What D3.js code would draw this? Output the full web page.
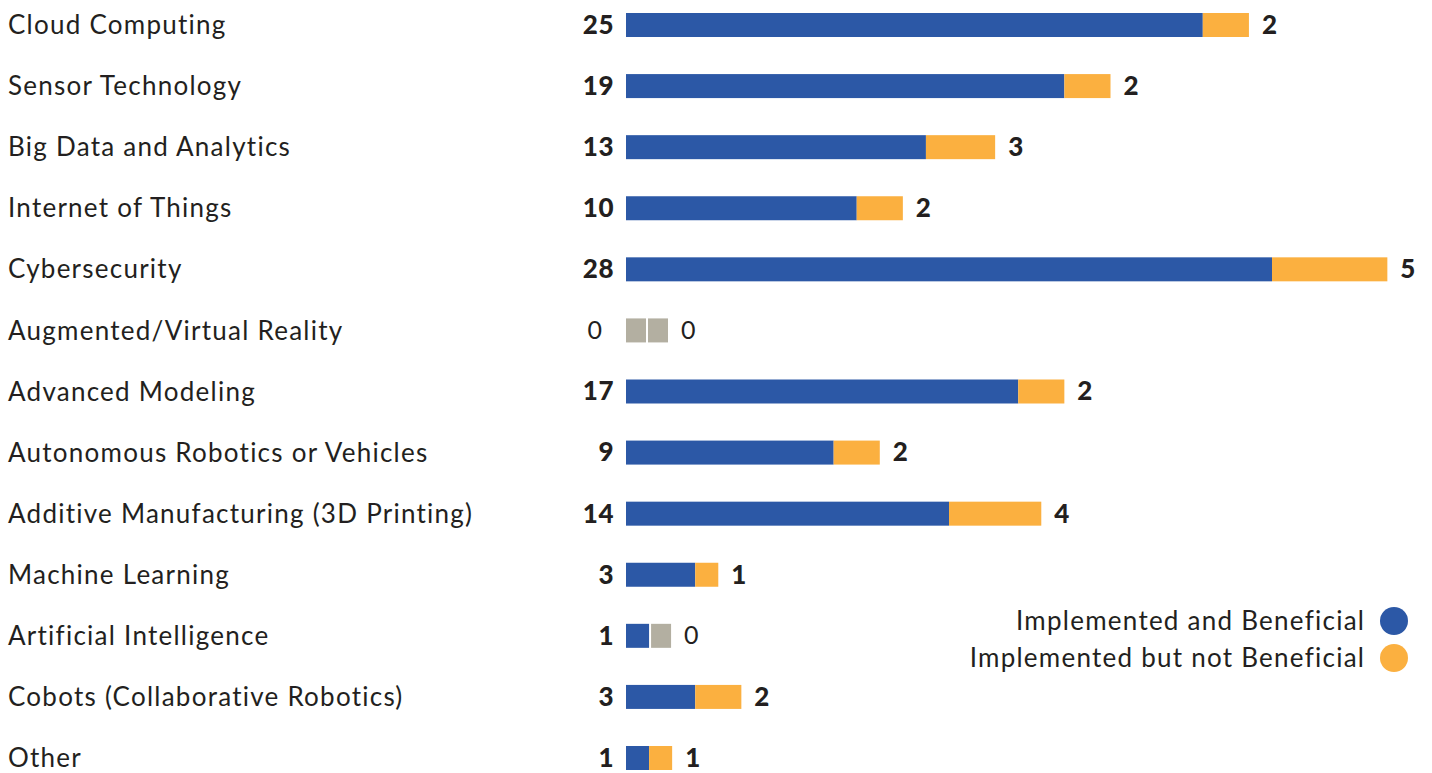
<!DOCTYPE html>
<html>
<head>
<meta charset="utf-8">
<script src="https://cdn.jsdelivr.net/npm/d3@7"></script>
<style>
  body { margin: 0; background: #fff; }
  svg { display: block; }
</style>
</head>
<body>
<svg id="chart" width="1432" height="773"></svg>
<script>
// categories and the two series
const categories = [
  "Cloud Computing", "Sensor Technology", "Big Data and Analytics", "Internet of Things",
  "Cybersecurity", "Augmented/Virtual Reality", "Advanced Modeling",
  "Autonomous Robotics or Vehicles", "Additive Manufacturing (3D Printing)",
  "Machine Learning", "Artificial Intelligence", "Cobots (Collaborative Robotics)", "Other"
];
const beneficial = [25, 19, 13, 10, 28, 0, 17, 9, 14, 3, 1, 3, 1];
const notBeneficial = [2, 2, 3, 2, 5, 0, 2, 2, 4, 1, 0, 2, 1];
const legendLabels = ["Implemented and Beneficial", "Implemented but not Beneficial"];

const colors = { blue: "#2c58a6", orange: "#fbb040", gray: "#b3afa1", text: "#231f20" };
const labelFont = "Lato, 'Open Sans', sans-serif";
const spacing = 1.25;

const svg = d3.select("#chart");

// scales
const x = d3.scaleLinear().domain([0, 28]).range([626, 1272]);
const y = d3.scalePoint().domain(categories).range([25, 758]);
const barH = 24;
const stubW = 20;   // gray placeholder for a zero value

const data = categories.map((c, i) => ({ cat: c, a: beneficial[i], b: notBeneficial[i] }));

// category labels
svg.selectAll("text.cat")
  .data(data)
  .enter().append("text")
  .attr("class", "cat")
  .attr("x", 8)
  .attr("y", d => y(d.cat))
  .attr("dy", "0.35em")
  .attr("font-family", labelFont)
  .attr("font-size", 26)
  .attr("letter-spacing", spacing)
  .attr("fill", colors.text)
  .text(d => d.cat);

const rows = svg.selectAll("g.row")
  .data(data)
  .enter().append("g")
  .attr("class", "row")
  .attr("transform", d => `translate(0,${y(d.cat)})`);

// first segment (or gray stub when zero)
rows.append("rect")
  .attr("x", x(0))
  .attr("y", -barH / 2)
  .attr("width", d => d.a > 0 ? x(d.a) - x(0) : stubW)
  .attr("height", barH)
  .attr("fill", d => d.a > 0 ? colors.blue : colors.gray);

function endA(d) {
  return d.a > 0 ? x(d.a) : x(0) + stubW;
}
function startB(d) {
  return d.b > 0 ? endA(d) : endA(d) + 2;
}
function endB(d) {
  return d.b > 0 ? x(d.a + d.b) : startB(d) + stubW;
}

// second segment
rows.append("rect")
  .attr("x", d => startB(d))
  .attr("y", -barH / 2)
  .attr("width", d => endB(d) - startB(d))
  .attr("height", barH)
  .attr("fill", d => d.b > 0 ? colors.orange : colors.gray);

// values
rows.append("text")
  .attr("x", d => d.a > 0 ? 614 : 602)
  .attr("dy", "0.34em")
  .attr("text-anchor", "end")
  .attr("font-family", labelFont)
  .attr("font-size", d => d.a > 0 ? 26 : 25)
  .attr("font-weight", d => d.a > 0 ? 900 : 400)
  .attr("letter-spacing", d => d.a > 0 ? 0.5 : 0)
  .attr("fill", colors.text)
  .text(d => d.a);

rows.append("text")
  .attr("x", d => endB(d) + 13)
  .attr("dy", "0.34em")
  .attr("font-family", labelFont)
  .attr("font-size", d => d.b > 0 ? 26 : 25)
  .attr("font-weight", d => d.b > 0 ? 900 : 400)
  .attr("letter-spacing", d => d.b > 0 ? 0.5 : 0)
  .attr("fill", colors.text)
  .text(d => d.b);

// legend
const legend = svg.selectAll("g.legend")
  .data(legendLabels)
  .enter().append("g")
  .attr("class", "legend")
  .attr("transform", (d, i) => `translate(1364,${621 + i * 37})`);

legend.append("text")
  .attr("x", spacing)
  .attr("text-anchor", "end")
  .attr("dy", "0.35em")
  .attr("font-family", labelFont)
  .attr("font-size", 26)
  .attr("letter-spacing", spacing)
  .attr("fill", colors.text)
  .text(d => d);

legend.append("circle")
  .attr("cx", 30)
  .attr("r", 14)
  .attr("fill", (d, i) => i === 0 ? colors.blue : colors.orange);
</script>
</body>
</html>
